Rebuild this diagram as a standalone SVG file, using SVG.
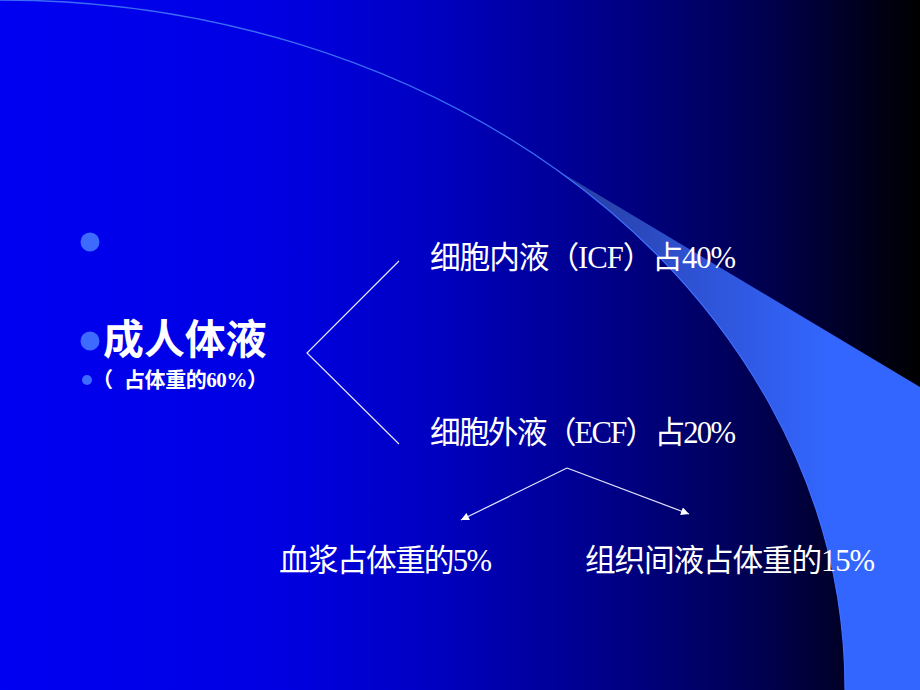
<svg xmlns="http://www.w3.org/2000/svg" width="920" height="690" viewBox="0 0 920 690">
<defs>
<linearGradient id="bg" gradientUnits="userSpaceOnUse" x1="0" y1="0" x2="920" y2="0">
<stop offset="0" stop-color="#0000f2"/>
<stop offset="0.3" stop-color="#0000e2"/>
<stop offset="0.46" stop-color="#0000c4"/>
<stop offset="0.65" stop-color="#00008c"/>
<stop offset="0.83" stop-color="#000050"/>
<stop offset="1" stop-color="#000000"/>
</linearGradient>
<linearGradient id="sw" gradientUnits="userSpaceOnUse" x1="560" y1="0" x2="830" y2="0">
<stop offset="0" stop-color="#263c9c"/>
<stop offset="0.5" stop-color="#2e52d4"/>
<stop offset="1" stop-color="#3366ff"/>
</linearGradient>
<marker id="ah" viewBox="0 0 10 10" refX="10" refY="5" markerWidth="10" markerHeight="8" markerUnits="userSpaceOnUse" orient="auto">
<path d="M0,0 L10,5 L0,10 z" fill="#ffffff"/>
</marker>
</defs>
<style>
.t{fill:#ffffff;font-family:"Liberation Serif","Noto Sans CJK SC",serif;}
.m{font-size:30.7px;}
.b{font-weight:bold;}
.dot{fill:#3d6bff;}
.ln{stroke:#e6e6ff;stroke-width:1.2;fill:none;}
</style>
<rect x="0" y="0" width="920" height="690" fill="url(#bg)"/>
<g id="decor">
<path d="M0,0 A845,690 0 0 1 557,170" fill="none" stroke="#3a6cf4" stroke-width="1.3"/>
<path d="M557,170 A845,690 0 0 1 845,690 L920,690 L920,387 Z" fill="url(#sw)"/>
<path d="M557,170 A845,690 0 0 1 845,690" fill="none" stroke="#3f70ff" stroke-width="1.2"/>
</g>
<g id="bullets">
<circle class="dot" cx="90" cy="242" r="9.5"/>
<circle class="dot" cx="90" cy="341" r="9.5"/>
<circle class="dot" cx="87" cy="380" r="5"/>
</g>
<g id="n-body">
<text class="t b" x="103" y="354" font-size="40.9">成人体液</text>
<text class="t b" x="92" y="387" font-size="21">（ <tspan x="124" textLength="144">占体重的60%）</tspan></text>
</g>
<g id="n-icf">
<text class="t m" x="430" y="268" textLength="306">细胞内液（ICF）占40%</text>
</g>
<g id="n-ecf">
<text class="t m" x="430" y="443" textLength="306">细胞外液（ECF）占20%</text>
</g>
<g id="n-plasma">
<text class="t m" x="279" y="571" textLength="213">血浆占体重的5%</text>
</g>
<g id="n-interstitial">
<text class="t m" x="585" y="571" textLength="290">组织间液占体重的15%</text>
</g>
<g id="connectors">
<polyline class="ln" points="399,261 307,353 399,444"/>
<line class="ln" x1="567" y1="468" x2="461" y2="520" marker-end="url(#ah)"/>
<line class="ln" x1="567" y1="468" x2="689" y2="514" marker-end="url(#ah)"/>
</g>
</svg>
